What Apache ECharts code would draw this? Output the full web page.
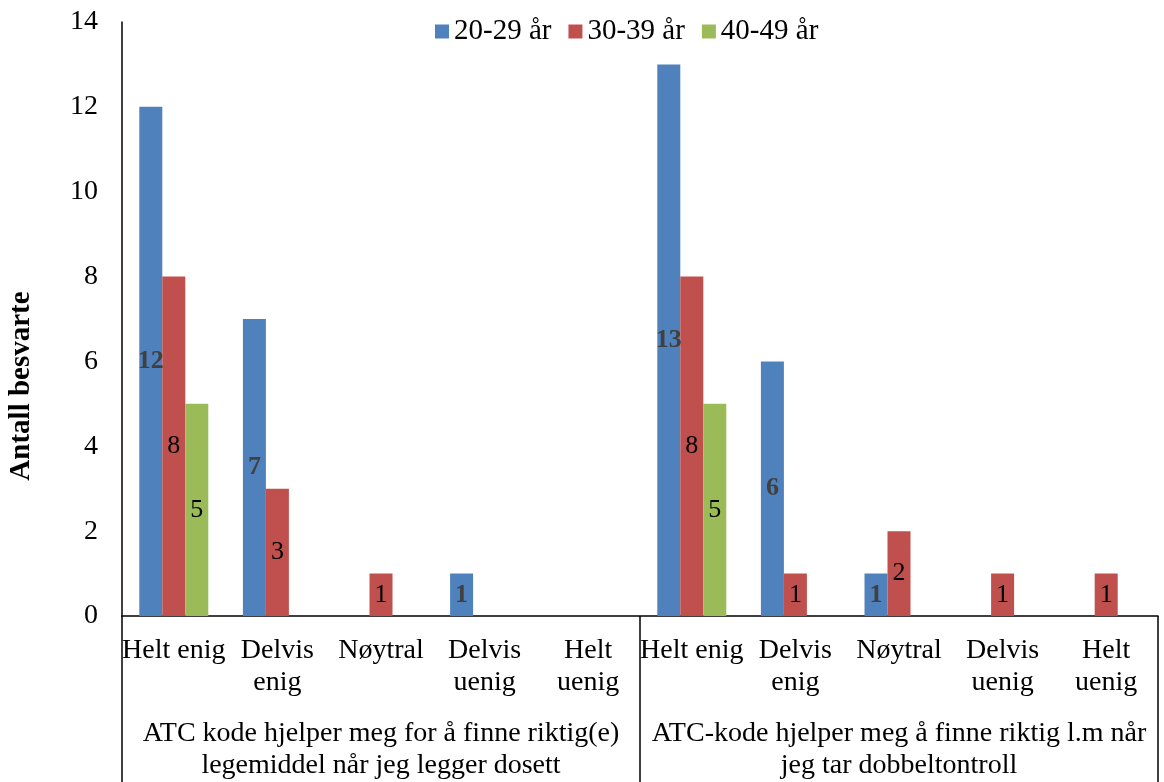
<!DOCTYPE html>
<html>
<head>
<meta charset="utf-8">
<script src="https://cdn.jsdelivr.net/npm/echarts@6/dist/echarts.min.js"></script>
<style>
  html, body { margin: 0; padding: 0; background: #fff; overflow: hidden; }
  #chart { width: 1164px; height: 782px; }
</style>
</head>
<body>
<div id="chart"></div>
<script>
// Answer categories (repeated for each statement) and the two statements
const answers = ['Helt enig', 'Delvis\nenig', 'Nøytral', 'Delvis\nuenig', 'Helt\nuenig'];
const statements = [
  'ATC kode hjelper meg for å finne riktig(e)\nlegemiddel når jeg legger dosett',
  'ATC-kode hjelper meg å finne riktig l.m når\njeg tar dobbeltontroll'
];
const categories = answers.concat(answers);

// Number of respondents per age group
const seriesNames = ['20-29 år', '30-39 år', '40-49 år'];
const age2029 = [12, 7, 0, 1, 0, 13, 6, 1, 0, 0];
const age3039 = [8, 3, 1, 0, 0, 8, 1, 2, 1, 1];
const age4049 = [5, 0, 0, 0, 0, 5, 0, 0, 0, 0];

// Value axis ticks
const yMin = 0, yMax = 14, yStep = 2;

const FONT = "'Liberation Serif', 'Times New Roman', serif";
const colors = ['#4F81BD', '#C0504D', '#9BBB59'];

const chart = echarts.init(document.getElementById('chart'), null, { renderer: 'canvas' });

function barSeries(name, data, color, bold) {
  return {
    name: name,
    type: 'bar',
    data: data,
    barWidth: 23,
    barGap: '0%',
    itemStyle: { color: color },
    label: {
      show: true,
      position: 'inside',
      fontFamily: FONT,
      fontSize: 26,
      fontWeight: bold ? 'bold' : 'normal',
      color: bold ? '#404040' : '#000',
      formatter: p => (p.value === 0 ? '' : String(p.value))
    }
  };
}

chart.setOption({
  animation: false,
  backgroundColor: '#fff',
  textStyle: { fontFamily: FONT },
  legend: {
    left: 430,
    top: 12,
    itemWidth: 14,
    itemHeight: 14,
    itemGap: 17,
    icon: 'rect',
    textStyle: { fontFamily: FONT, fontSize: 29, color: '#000' },
    data: seriesNames
  },
  grid: { left: 122, right: 6, top: 22, height: 600, containLabel: false },
  xAxis: [
    {
      type: 'category',
      data: categories,
      axisLine: { show: true, lineStyle: { color: '#000', width: 1.5 } },
      axisTick: { show: false },
      axisLabel: {
        interval: 0,
        margin: 19,
        fontFamily: FONT,
        fontSize: 28,
        lineHeight: 32,
        color: '#000'
      }
    },
    {
      type: 'category',
      data: statements,
      position: 'bottom',
      axisLine: { show: false },
      axisTick: {
        show: true,
        interval: 0,
        length: 170,
        lineStyle: { color: '#000', width: 1.5 }
      },
      axisLabel: {
        interval: 0,
        margin: 102,
        fontFamily: FONT,
        fontSize: 28,
        lineHeight: 32,
        color: '#000'
      }
    }
  ],
  yAxis: {
    type: 'value',
    min: yMin,
    max: yMax,
    interval: yStep,
    axisLine: { show: true, lineStyle: { color: '#000', width: 1.5 } },
    axisTick: { show: false },
    splitLine: { show: false },
    axisLabel: {
      margin: 24,
      fontFamily: FONT,
      fontSize: 28,
      color: '#000'
    }
  },
  graphic: [
    {
      type: 'text',
      x: 22,
      y: 386,
      rotation: Math.PI / 2,
      style: {
        text: 'Antall besvarte',
        font: 'bold 29px ' + FONT,
        fill: '#000',
        align: 'center',
        verticalAlign: 'middle'
      }
    }
  ],
  series: [
    barSeries(seriesNames[0], age2029, colors[0], true),
    barSeries(seriesNames[1], age3039, colors[1], false),
    barSeries(seriesNames[2], age4049, colors[2], false)
  ]
});
</script>
</body>
</html>
